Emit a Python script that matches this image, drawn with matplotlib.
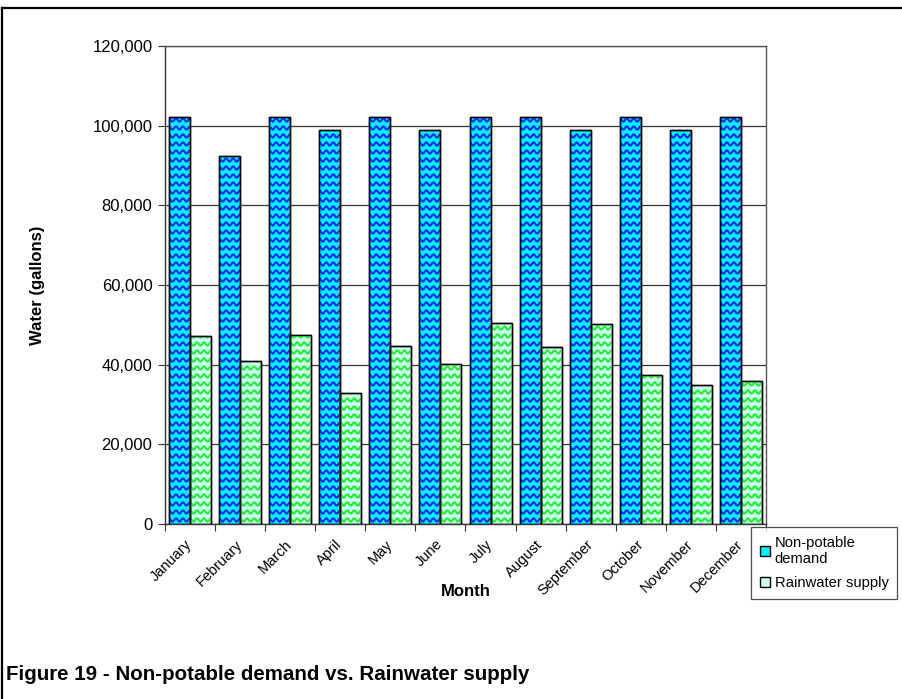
import numpy as np
import matplotlib.pyplot as plt
from matplotlib.patches import Patch
from matplotlib.lines import Line2D
from matplotlib.collections import LineCollection
from matplotlib.ticker import FuncFormatter

plt.rcParams['font.family'] = ['Liberation Sans', 'DejaVu Sans']

# data
months = ['January', 'February', 'March', 'April', 'May', 'June', 'July',
          'August', 'September', 'October', 'November', 'December']
demand = [102300, 92400, 102300, 99000, 102300, 99000, 102300,
          102300, 99000, 102300, 99000, 102300]
rainwater = [47250, 40830, 47350, 32870, 44590, 40080, 50360,
             44420, 50110, 37310, 34880, 35810]
series_names = ['Non-potable\ndemand', 'Rainwater supply']

blue_fill, blue_wave = '#00f0ff', '#1a2aee'
green_fill, green_wave = '#ccffee', '#22ee33'

fig = plt.figure(figsize=(9.03, 6.99), dpi=100)
W, H = 903, 699
ax = fig.add_axes([165 / W, 1 - 524 / H, 601 / W, 478 / H])

x = np.arange(len(months))
bw = 0.42
b1 = ax.bar(x - bw / 2, demand, bw, color=blue_fill, edgecolor='black', linewidth=1.0, zorder=3)
b2 = ax.bar(x + bw / 2, rainwater, bw, color=green_fill, edgecolor='black', linewidth=1.0, zorder=3)

ax.set_xlim(-0.5, len(months) - 0.5)
ax.set_ylim(0, 120000)
ax.set_yticks(np.arange(0, 120001, 20000))
ax.yaxis.set_major_formatter(FuncFormatter(lambda v, p: f'{v:,.0f}'))
ax.yaxis.grid(True, color='#333333', linewidth=0.9, zorder=0)
ax.set_axisbelow(True)

# ticks between categories, labels at centers
ax.set_xticks(np.arange(-0.5, len(months), 1.0))
ax.set_xticklabels([])
ax.set_xticks(x, minor=True)
ax.set_xticklabels(months, minor=True, rotation=45, ha='right', va='center',
                   rotation_mode='anchor', fontsize=10.5)
ax.tick_params(axis='x', which='minor', length=0, pad=13)
ax.tick_params(axis='x', which='major', length=5, color='#333333', direction='out')
ax.tick_params(axis='y', length=5, color='#333333', labelsize=12, pad=4)
for s in ax.spines.values():
    s.set_color('#555555')
    s.set_linewidth(1.0)
ax.spines['left'].set_color('#333333')
ax.spines['bottom'].set_color('#333333')

ax.set_ylabel('Water (gallons)', fontsize=12, fontweight='bold')
ax.yaxis.set_label_coords((45 - 165) / 601, 0.5)
ax.set_xlabel('Month', fontsize=12, fontweight='bold', va='center')
ax.xaxis.set_label_coords(0.5, -(591 - 524) / 478)

# wavy texture clipped to each bar
sx = ax.transData.transform((1, 0))[0] - ax.transData.transform((0, 0))[0]
sy = ax.transData.transform((0, 1))[1] - ax.transData.transform((0, 0))[1]
period = 7.0 / sx
row = 8.0 / sy
amp = 1.6 / sy


def add_waves(bars, col):
    for b in bars:
        x0, w, h = b.get_x(), b.get_width(), b.get_height()
        xs = np.linspace(x0, x0 + w, 60)
        segs = []
        for yb in np.arange(row / 2, h + row, row):
            ys = yb + amp * np.cos(2 * np.pi * (xs - x0) / period)
            segs.append(np.column_stack([xs, ys]))
        lc = LineCollection(segs, colors=col, linewidths=1.5, zorder=3.5)
        ax.add_collection(lc)
        lc.set_clip_path(b)
        # redraw the outline on top
        edge = plt.Rectangle((x0, 0), w, h, fill=False, edgecolor='black',
                             linewidth=1.0, zorder=4)
        ax.add_patch(edge)


add_waves(b1, blue_wave)
add_waves(b2, green_wave)

handles = [Patch(facecolor=blue_fill, edgecolor='black'),
           Patch(facecolor=green_fill, edgecolor='black')]
leg = fig.legend(handles, series_names, loc='upper left',
                 bbox_to_anchor=(751 / W, 1 - 527 / H), fontsize=10.6,
                 frameon=True, fancybox=False, edgecolor='#222222',
                 handlelength=0.7, handleheight=0.7, handletextpad=0.3,
                 borderpad=0.6, labelspacing=0.7, borderaxespad=0)
leg.get_frame().set_linewidth(0.9)

# outer frame (top and left edges visible)
fig.add_artist(Line2D([2 / W, 2 / W], [0, 1 - 8 / H], transform=fig.transFigure,
                      color='black', linewidth=1.6))
fig.add_artist(Line2D([2 / W, 1], [1 - 8 / H, 1 - 8 / H], transform=fig.transFigure,
                      color='black', linewidth=1.6))

fig.text(6 / W, 1 - 675 / H, 'Figure 19 - Non-potable demand vs. Rainwater supply',
         fontsize=14.8, fontweight='bold', va='center', ha='left')

fig.savefig('out.png', dpi=100)
